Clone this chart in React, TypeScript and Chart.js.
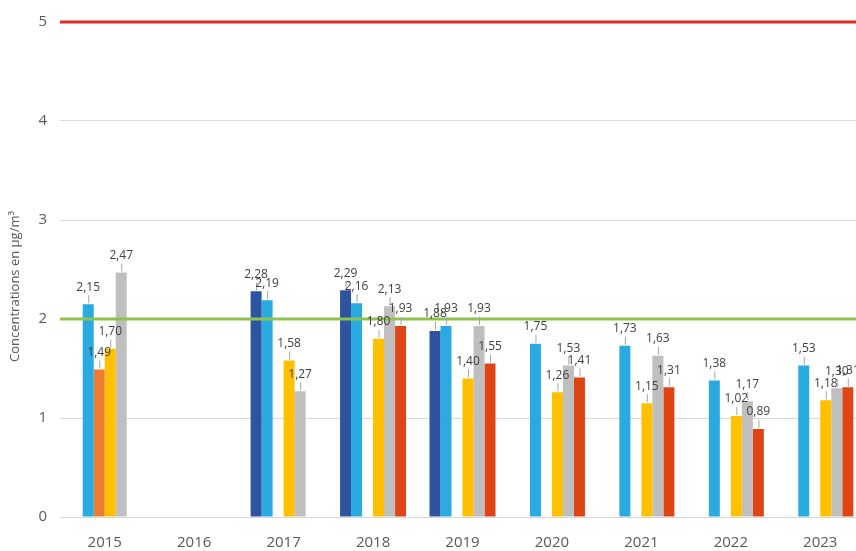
import React, { useEffect, useRef } from "react";
import { Chart, registerables } from "chart.js";

Chart.register(...registerables);

const years = ["2015", "2016", "2017", "2018", "2019", "2020", "2021", "2022", "2023"];
const serieDarkBlue = [null, null, 2.28, 2.29, 1.88, null, null, null, null];
const serieLightBlue = [2.15, null, 2.19, 2.16, 1.93, 1.75, 1.73, 1.38, 1.53];
const serieOrange = [1.49, null, null, null, null, null, null, null, null];
const serieYellow = [1.7, null, 1.58, 1.8, 1.4, 1.26, 1.15, 1.02, 1.18];
const serieGray = [2.47, null, 1.27, 2.13, 1.93, 1.53, 1.63, 1.17, 1.3];
const serieRed = [null, null, null, 1.93, 1.55, 1.41, 1.31, 0.89, 1.31];
const yTicks = [0, 1, 2, 3, 4, 5];
const limitRed = 5;
const limitGreen = 2;
const yTitle = "Concentrations en µg/m³";

const fmt = (v: number) => v.toFixed(2).replace(".", ",");

const overlayPlugin = {
  id: "overlay",
  afterDatasetsDraw(chart: any) {
    const { ctx, chartArea, scales } = chart;
    const y = scales.y;
    ctx.save();
    // limit lines
    const lines: [number, string][] = [
      [limitGreen, "#8FC24C"],
      [limitRed, "#E02A2A"],
    ];
    for (const [v, c] of lines) {
      const py = y.getPixelForValue(v);
      ctx.strokeStyle = c;
      ctx.lineWidth = 3;
      ctx.beginPath();
      ctx.moveTo(chartArea.left, py);
      ctx.lineTo(chartArea.right + 10, py);
      ctx.stroke();
    }
    // data labels
    ctx.font = "12px 'Open Sans'";
    ctx.textAlign = "center";
    ctx.textBaseline = "middle";
    chart.data.datasets.forEach((ds: any, i: number) => {
      const meta = chart.getDatasetMeta(i);
      meta.data.forEach((el: any, j: number) => {
        const v = ds.data[j];
        if (v === null || v === undefined) return;
        const x = el.x;
        const top = el.y;
        ctx.strokeStyle = "#A6A6A6";
        ctx.lineWidth = 1;
        ctx.beginPath();
        ctx.moveTo(x + 0.5, top - 1);
        ctx.lineTo(x + 0.5, top - 9);
        ctx.stroke();
        ctx.fillStyle = "#404040";
        ctx.fillText(fmt(v), x, top - 17);
      });
    });
    // y axis title
    ctx.translate(15, (chartArea.top + chartArea.bottom) / 2 + 17);
    ctx.rotate(-Math.PI / 2);
    ctx.font = "13px 'Open Sans'";
    ctx.fillStyle = "#595959";
    ctx.fillText(yTitle, 0, 0);
    ctx.restore();
  },
};

export default function App() {
  const ref = useRef<HTMLCanvasElement | null>(null);
  useEffect(() => {
    if (!ref.current) return;
    const mk = (label: string, data: (number | null)[], color: string) => ({
      label,
      data,
      backgroundColor: color,
      borderWidth: 0,
      categoryPercentage: 0.738,
      barPercentage: 1,
    });
    const chart = new Chart(ref.current, {
      type: "bar",
      data: {
        labels: years,
        datasets: [
          mk("S1", serieDarkBlue, "#2E54A1"),
          mk("S2", serieLightBlue, "#29ABE2"),
          mk("S3", serieOrange, "#ED7D31"),
          mk("S4", serieYellow, "#FFC000"),
          mk("S5", serieGray, "#BFBFBF"),
          mk("S6", serieRed, "#DF4415"),
        ] as any,
      },
      options: {
        responsive: false,
        animation: false,
        layout: { padding: { top: 22, left: 0, right: 3, bottom: 0 } },
        plugins: {
          legend: { display: false },
          tooltip: { enabled: false },
        },
        scales: {
          x: {
            grid: { display: false, drawTicks: false },
            border: { display: false },
            ticks: {
              padding: 17,
              color: "#595959",
              font: { family: "'Open Sans'", size: 15 },
            },
            afterFit: (s: any) => {
              s.height = 34;
            },
          },
          y: {
            min: 0,
            max: 5,
            afterBuildTicks: (s: any) => {
              s.ticks = yTicks.map((v) => ({ value: v }));
            },
            grid: {
              drawTicks: false,
              color: "#D9D9D9",
              lineWidth: 1,
            },
            border: { display: false },
            ticks: {
              padding: 13,
              color: "#595959",
              font: { family: "'Open Sans'", size: 15 },
            },
            afterFit: (s: any) => {
              s.width = 60;
            },
          },
        },
      },
      plugins: [overlayPlugin],
    });
    return () => chart.destroy();
  }, []);
  return (
    <div
      style={{
        position: "fixed",
        left: 0,
        top: 0,
        width: 856,
        height: 551,
        overflow: "hidden",
        background: "#fff",
      }}
    >
      <canvas ref={ref} width={868} height={551} style={{ display: "block" }} />
    </div>
  );
}
